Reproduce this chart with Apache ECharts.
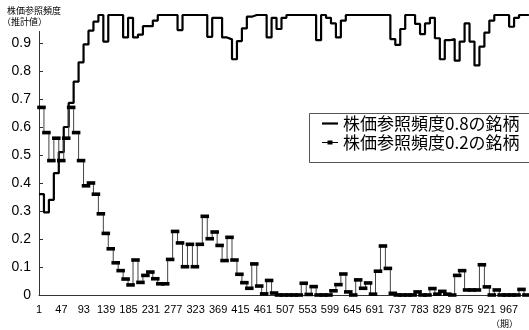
<!DOCTYPE html>
<html><head><meta charset="utf-8">
<script src="https://cdn.jsdelivr.net/npm/echarts@6/dist/echarts.min.js"></script>
<style>html,body{margin:0;padding:0;background:#fff}#c{width:529px;height:330px}</style>
</head><body><div id="c"></div>
<script>
// ---- data ----
const stepLen = 10.17;          // periods covered by one step of the estimate
const xMax = 1007;              // last period shown (offset from period 1)
const xTickStep = 46;           // label every 46 periods: 1, 47, 93, ...
const yMax = 1, yTickStep = 0.1;
const highName = '株価参照頻度0.8の銘柄';
const lowName = '株価参照頻度0.2の銘柄';
const yTitle = ['株価参照頻度', '（推計値）'];
const xUnit = '（期）';

const highVals = [
  0.36, 0.295, 0.34, 0.435, 0.51, 0.60, 0.686, 0.762, 0.831, 0.895,
  0.944, 0.976, 1.0, 0.905, 1.0, 1.0, 1.0, 0.92, 0.99, 0.92,
  0.93, 0.96, 0.96, 0.98, 1.0, 1.0, 1.0, 1.0, 0.946, 1.0,
  1.0, 1.0, 1.0, 1.0, 0.922, 0.99, 0.99, 0.92, 0.913, 0.842,
  0.907, 0.952, 0.994, 1.0, 1.0, 1.0, 0.92, 0.99, 0.95, 0.99,
  1.0, 1.0, 1.0, 1.0, 1.0, 1.0, 0.91, 1.0, 0.99, 0.97,
  0.92, 0.98, 1.0, 1.0, 1.0, 1.0, 1.0, 1.0, 1.0, 1.0,
  1.0, 0.914, 0.893, 0.95, 1.0, 1.0, 0.968, 0.932, 0.97, 0.99,
  0.917, 0.842, 0.91, 0.914, 0.837, 0.905, 0.97, 0.905, 0.82, 0.887,
  0.937, 0.98, 1.0, 1.0, 1.0, 0.958, 0.99, 1.0, 1.0
];
const lowVals = [
  0.67, 0.58, 0.48, 0.56, 0.48, 0.56, 0.67, 0.58, 0.48, 0.39,
  0.40, 0.36, 0.29, 0.22, 0.165, 0.115, 0.087, 0.057, 0.036, 0.125,
  0.045, 0.07, 0.082, 0.058, 0.04, 0.04, 0.127, 0.227, 0.186, 0.101,
  0.181, 0.101, 0.181, 0.281, 0.201, 0.225, 0.177, 0.123, 0.206, 0.125,
  0.074, 0.044, 0.024, 0.111, 0.032, 0.004, 0.052, 0.007, 0.0, 0.0,
  0.0, 0.0, 0.0, 0.042, 0.002, 0.03, 0.0, 0.0, 0.0, 0.015,
  0.037, 0.075, 0.011, 0.0, 0.054, 0.024, 0.043, 0.003, 0.085, 0.175,
  0.095, 0.006, 0.0, 0.0, 0.0, 0.0, 0.011, 0.0, 0.0, 0.023,
  0.003, 0.013, 0.003, 0.0, 0.07, 0.087, 0.018, 0.018, 0.018, 0.108,
  0.029, 0.0, 0.018, 0.0, 0.0, 0.0, 0.0, 0.02, 0.0
];

// ---- build ----
function stepPoints(vals) {
  const pts = vals.map((v, i) => [i * stepLen, v]);
  pts.push([vals.length * stepLen, vals[vals.length - 1]]);
  return pts;
}
const lowRuns = lowVals.map((v, i) => [i * stepLen, (i + 1) * stepLen, v]);

const chart = echarts.init(document.getElementById('c'), null, {renderer: 'canvas'});
const cjk = '"Noto Sans CJK JP", sans-serif';
chart.setOption({
  animation: false,
  backgroundColor: '#fff',
  grid: {left: 39, right: 0, top: 15, bottom: 35},
  xAxis: {
    type: 'value', min: 0, max: xMax, interval: xTickStep,
    axisLine: {lineStyle: {color: '#333', width: 1}},
    axisTick: {show: false},
    splitLine: {show: false},
    axisLabel: {
      formatter: v => String(v + 1), showMaxLabel: false, margin: 9,
      fontFamily: '"Liberation Sans", Arial, sans-serif', fontSize: 11, color: '#000'
    }
  },
  yAxis: {
    type: 'value', min: 0, max: yMax, interval: yTickStep,
    axisLine: {show: true, lineStyle: {color: '#333', width: 1}},
    axisTick: {show: true, inside: true, length: 4, lineStyle: {color: '#333'}},
    splitLine: {show: false},
    axisLabel: {
      showMaxLabel: false, margin: 8,
      fontFamily: '"Liberation Sans", Arial, sans-serif', fontSize: 14, color: '#000'
    }
  },
  legend: {
    orient: 'vertical', left: 309, top: 113,
    padding: [1, 5, 10, 13], itemGap: 0, itemWidth: 16, itemHeight: 14,
    borderWidth: 0,
    textStyle: {fontFamily: cjk, fontSize: 17, color: '#000', lineHeight: 19},
    data: [
      {name: highName, icon: 'path://M0,0H16V2.2H0Z', itemStyle: {color: '#000'}},
      {name: lowName, icon: 'path://M0,1.6H16V2.4H0Z M5.5,0H10.5V4H5.5Z', itemStyle: {color: '#000'}}
    ]
  },
  graphic: [
    {type: 'rect', left: 309, top: 113, z: 1, shape: {width: 240, height: 49},
     style: {fill: 'rgba(0,0,0,0)', stroke: '#555', lineWidth: 1}},
    {type: 'rect', left: 0, top: 0, z: 100, shape: {width: 64, height: 31}, style: {fill: '#fff'}},
    {type: 'text', left: 7, top: 6, z: 101, style: {text: yTitle[0], font: '9px ' + cjk, fill: '#000'}},
    {type: 'text', left: 2, top: 17, z: 101, style: {text: yTitle[1], font: '9px ' + cjk, fill: '#000'}},
    {type: 'text', left: 491, top: 319, z: 101, style: {text: xUnit, font: '9px ' + cjk, fill: '#000'}}
  ],
  series: [
    {
      name: highName, type: 'line', step: 'end', symbol: 'none', clip: false,
      data: stepPoints(highVals),
      lineStyle: {color: '#000', width: 2.2}, itemStyle: {color: '#000'}, z: 2
    },
    {
      name: lowName, type: 'line', step: 'end', symbol: 'none', clip: false,
      data: stepPoints(lowVals),
      lineStyle: {color: '#444', width: 1}, itemStyle: {color: '#000'}, z: 3
    },
    {
      name: lowName, type: 'custom', z: 4,
      encode: {x: [0, 1], y: 2},
      data: lowRuns,
      renderItem: (params, api) => {
        const a = api.coord([api.value(0), api.value(2)]);
        const b = api.coord([api.value(1), api.value(2)]);
        return {
          type: 'rect',
          shape: {x: a[0] - 1.8, y: a[1] - 1.8, width: b[0] - a[0] + 3.6, height: 3.6},
          style: {fill: '#000'}
        };
      }
    }
  ]
});
</script></body></html>
